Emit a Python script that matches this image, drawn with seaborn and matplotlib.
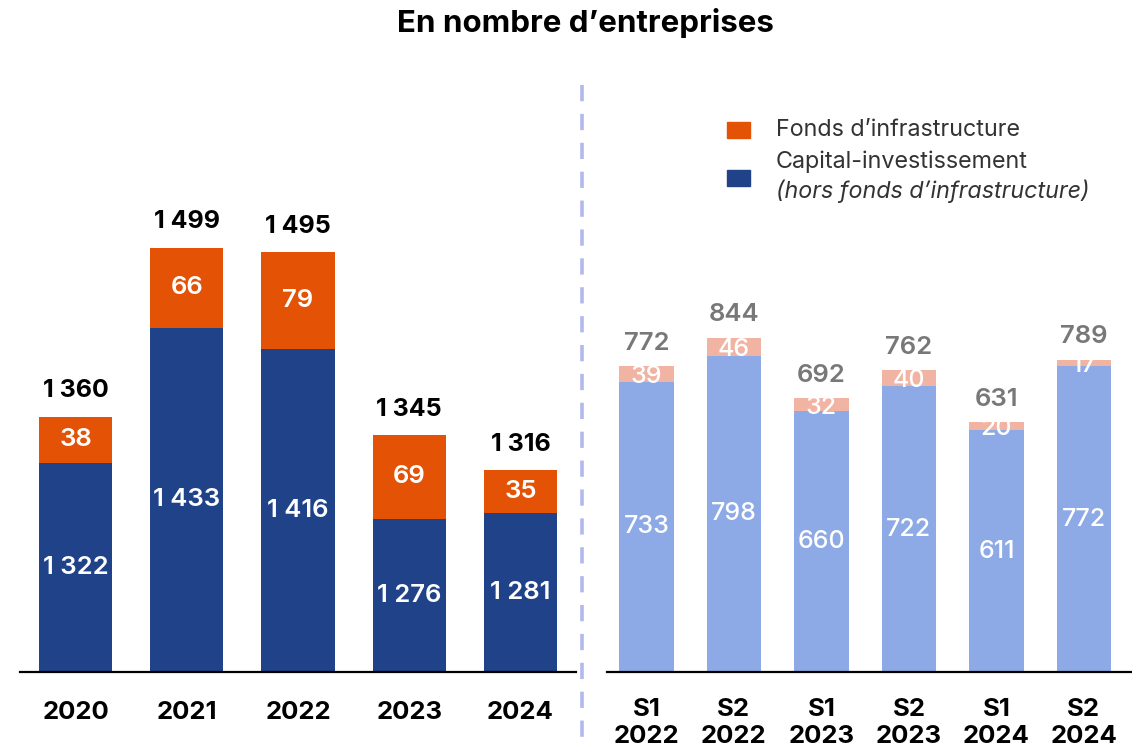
import matplotlib
matplotlib.use("Agg")
import matplotlib.pyplot as plt
from matplotlib.patches import Rectangle
from matplotlib.lines import Line2D
import seaborn as sns
import pandas as pd

# ---- data ----
years = ["2020", "2021", "2022", "2023", "2024"]
cap_years = [1322, 1433, 1416, 1276, 1281]
infra_years = [38, 66, 79, 69, 35]

semesters = ["S1\n2022", "S2\n2022", "S1\n2023", "S2\n2023", "S1\n2024", "S2\n2024"]
cap_sem = [733, 798, 660, 722, 611, 772]
infra_sem = [39, 46, 32, 40, 20, 17]

title = "En nombre d\u2019entreprises"
legend_infra = "Fonds d\u2019infrastructure"
legend_cap = "Capital-investissement"
legend_cap2 = "(hors fonds d\u2019infrastructure)"

# ---- style ----
sns.set_theme(style="white")
plt.rcParams["font.family"] = ["Inter", "DejaVu Sans"]

DARK_BLUE = "#1F4289"
ORANGE = "#E35205"
LIGHT_BLUE = "#8DAAE6"
SALMON = "#F2B4A2"
GREY = "#787878"


def fmt(v):
    s = f"{v:,}"
    return s.replace(",", " ")


df_y = pd.DataFrame({"cat": years, "cap": cap_years, "infra": infra_years})
df_y["total"] = df_y["cap"] + df_y["infra"]
df_s = pd.DataFrame({"cat": semesters, "cap": cap_sem, "infra": infra_sem})
df_s["total"] = df_s["cap"] + df_s["infra"]

W, H = 1132, 753
fig = plt.figure(figsize=(W / 100, H / 100), dpi=100)

axL = fig.add_axes([20 / W, 81 / H, 556 / W, 572 / H])
axR = fig.add_axes([607 / W, 81 / H, 525 / W, 572 / H])

# left panel
sns.barplot(data=df_y, x="cat", y="total", color=ORANGE, width=0.66,
            saturation=1, ax=axL, edgecolor="none")
sns.barplot(data=df_y, x="cat", y="cap", color=DARK_BLUE, width=0.66,
            saturation=1, ax=axL, edgecolor="none")
axL.set_ylim(1150, 1150 + 572 / 1.216)
axL.set_xlim(-0.5, 4.5)

for i, r in df_y.iterrows():
    axL.text(i, (1150 + r["cap"]) / 2, fmt(r["cap"]), ha="center", va="center",
             color="white", fontsize=18.5, fontweight="semibold")
    axL.text(i, r["cap"] + r["infra"] / 2, fmt(r["infra"]), ha="center", va="center",
             color="white", fontsize=18.5, fontweight="semibold")
    axL.annotate(fmt(r["total"]), (i, r["total"]), xytext=(0, 18.5),
                 textcoords="offset points", ha="center", va="center",
                 color="black", fontsize=18, fontweight="bold")

# right panel
sns.barplot(data=df_s, x="cat", y="total", color=SALMON, width=0.62,
            saturation=1, ax=axR, edgecolor="none")
sns.barplot(data=df_s, x="cat", y="cap", color=LIGHT_BLUE, width=0.62,
            saturation=1, ax=axR, edgecolor="none")
axR.set_ylim(0, 572 / 0.396)
axR.set_xlim(-0.45, 5.55)

for i, r in df_s.iterrows():
    axR.text(i, r["cap"] / 2, fmt(r["cap"]), ha="center", va="center",
             color="white", fontsize=18, fontweight="medium")
    axR.annotate(fmt(r["infra"]), (i, r["cap"] + r["infra"] / 2), xytext=(0, -2),
                 textcoords="offset points", ha="center", va="center",
                 color="white", fontsize=18, fontweight="medium")
    axR.annotate(fmt(r["total"]), (i, r["total"]), xytext=(0, 16.5),
                 textcoords="offset points", ha="center", va="center",
                 color=GREY, fontsize=18.5, fontweight="semibold")

for ax in (axL, axR):
    ax.set_xlabel("")
    ax.set_ylabel("")
    ax.set_yticks([])
    for s in ("top", "right", "left"):
        ax.spines[s].set_visible(False)
    ax.spines["bottom"].set_color("black")
    ax.spines["bottom"].set_linewidth(1.6)
    ax.tick_params(axis="x", length=0)
    ax.patch.set_alpha(0)
    for lab in ax.get_xticklabels():
        lab.set_fontweight("bold")
        lab.set_fontsize(18.5)
        lab.set_color("black")
        lab.set_va("top")

for lab in axR.get_xticklabels():
    lab.set_linespacing(1.18)

axL.tick_params(axis="x", pad=21)
axR.tick_params(axis="x", pad=19)

# title
fig.text(585 / W, 1 - 23 / H, title, ha="center", va="center",
         fontsize=22.5, fontweight="bold", color="black")

# separator
fig.add_artist(Line2D([582 / W, 582 / W], [1 - 85 / H, 1 - 740 / H],
                      transform=fig.transFigure, color="#B3B9EE",
                      linewidth=2.6, linestyle=(0, (4.5, 3.5))))

# legend (custom)
fig.add_artist(Rectangle((727 / W, 1 - 138 / H), 23 / W, 16 / H,
                         transform=fig.transFigure, color=ORANGE))
fig.add_artist(Rectangle((727 / W, 1 - 186 / H), 23 / W, 16 / H,
                         transform=fig.transFigure, color=DARK_BLUE))
fig.text(776 / W, 1 - 130 / H, legend_infra, ha="left", va="center",
         fontsize=16.8, color="#333333")
fig.text(776 / W, 1 - 162 / H, legend_cap, ha="left", va="center",
         fontsize=16.8, color="#333333")
fig.text(776 / W, 1 - 191 / H, legend_cap2, ha="left", va="center",
         fontsize=16.8, color="#333333", style="italic")

fig.savefig("out.png", dpi=100)
